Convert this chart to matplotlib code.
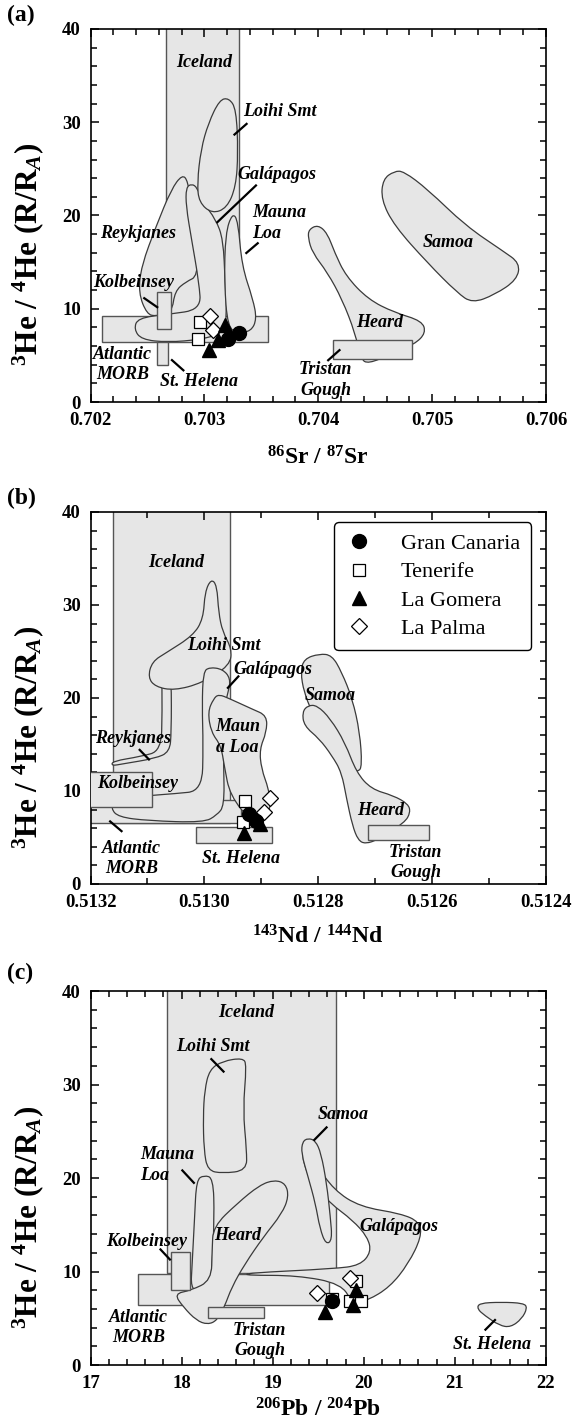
import numpy as np
import matplotlib
matplotlib.use('Agg')
import matplotlib.pyplot as plt
from matplotlib.path import Path
from matplotlib.patches import PathPatch, Rectangle

plt.rcParams['font.family'] = ['Liberation Serif', 'DejaVu Serif']
plt.rcParams['mathtext.fontset'] = 'custom'
plt.rcParams['mathtext.rm'] = 'Liberation Serif:bold'
plt.rcParams['mathtext.bf'] = 'Liberation Serif:bold'
plt.rcParams['mathtext.it'] = 'Liberation Serif:bold:italic'

# ---- Canary Islands samples: (x, 3He/4He) ----
gc_sr = [0.70330, 0.70321]
gc_sr_he = [7.4, 6.8]
tf_sr = [0.70296, 0.70294]
tf_sr_he = [8.6, 6.8]
lg_sr = [0.70318, 0.70312, 0.70304]
lg_sr_he = [8.3, 6.6, 5.6]
lp_sr = [0.70305, 0.70308]
lp_sr_he = [9.2, 7.7]

gc_nd = [0.512921, 0.512910]
gc_nd_he = [7.5, 6.8]
tf_nd = [0.512929, 0.512932]
tf_nd_he = [8.9, 6.7]
lg_nd = [0.512930, 0.512903]
lg_nd_he = [5.5, 6.4]
lp_nd = [0.512884, 0.512895]
lp_nd_he = [9.2, 7.7]

gc_pb = [19.65]
gc_pb_he = [6.85]
tf_pb = [19.65, 19.92, 19.85, 19.97]
tf_pb_he = [7.1, 9.0, 6.9, 6.9]
lg_pb = [19.57, 19.92, 19.88]
lg_pb_he = [5.65, 8.0, 6.4]
lp_pb = [19.49, 19.85]
lp_pb_he = [7.7, 9.3]

# ---- rectangular fields: (x0, x1, y0, y1) ----
sr_iceland = (0.70266, 0.70330, 8.0, 45.0)
sr_morb = (0.70210, 0.70356, 6.4, 9.2)
sr_kolbeinsey = (0.70258, 0.70271, 7.8, 11.8)
sr_sthelena = (0.70258, 0.70268, 4.0, 6.4)
sr_tristan = (0.70413, 0.70482, 4.6, 6.6)

nd_iceland = (0.513161, 0.512955, 6.6, 45.0)
nd_morb = (0.513250, 0.512935, 6.6, 9.0)
nd_kolbeinsey = (0.513250, 0.513092, 8.25, 12.0)
nd_sthelena = (0.513014, 0.512882, 4.4, 6.1)
nd_tristan = (0.512713, 0.512606, 4.75, 6.35)

pb_iceland = (17.845, 19.694, 9.8, 45.0)
pb_morb = (17.52, 19.62, 6.37, 9.77)
pb_kolbeinsey = (17.88, 18.09, 7.98, 12.1)
pb_tristan = (18.29, 18.91, 5.0, 6.26)

# ---- outlined fields: list of (x, 3He/4He) vertices ----
sr_loihi = [(0.703215, 32.6), (0.703280, 31.4), (0.703296, 26.7), (0.703277, 23.1),
            (0.703198, 20.8), (0.703068, 20.2), (0.702953, 21.4), (0.702937, 23.5),
            (0.702970, 27.1), (0.703035, 29.9), (0.703133, 32.4)]
sr_reykjanes = [(0.702496, 9.4), (0.702421, 11.7), (0.702447, 14.6), (0.702578, 18.9),
                (0.702709, 22.8), (0.702806, 24.4), (0.702855, 23.7), (0.702888, 21.0),
                (0.702931, 17.4), (0.702944, 13.5), (0.702839, 12.9), (0.702741, 11.9),
                (0.702715, 9.6), (0.702578, 9.2)]
sr_galapagos = [(0.702839, 23.0), (0.702888, 23.4), (0.702937, 23.0), (0.702986, 21.4),
                (0.703100, 19.6), (0.703166, 17.4), (0.703182, 12.8), (0.703198, 9.2),
                (0.703166, 7.4), (0.702970, 6.7), (0.702676, 6.4), (0.702447, 6.7),
                (0.702382, 7.8), (0.702415, 9.0), (0.702676, 9.4), (0.702970, 9.9),
                (0.702953, 12.8), (0.702888, 17.4), (0.702839, 21.0)]
sr_maunaloa = [(0.703247, 20.3), (0.703296, 19.4), (0.703329, 14.6), (0.703427, 11.0),
               (0.703460, 8.9), (0.703411, 7.6), (0.703296, 7.4), (0.703205, 8.0),
               (0.703175, 12.8), (0.703185, 18.1)]
sr_heard = [(0.703917, 18.5), (0.703998, 19.0), (0.704080, 18.1), (0.704145, 16.0),
            (0.704243, 13.5), (0.704439, 11.0), (0.704668, 9.6), (0.704912, 8.7),
            (0.704945, 7.4), (0.704847, 6.2), (0.704635, 5.1), (0.704439, 4.1),
            (0.704374, 4.6), (0.704324, 7.4), (0.704210, 11.0), (0.704080, 13.9),
            (0.703949, 16.0), (0.703911, 17.6)]
sr_samoa = [(0.704668, 24.75), (0.704568, 23.9), (0.704553, 21.7), (0.704668, 18.9),
            (0.704961, 14.9), (0.705222, 11.7), (0.705353, 10.6), (0.705549, 11.5),
            (0.705745, 13.1), (0.705771, 14.9), (0.705621, 16.2), (0.705294, 18.9),
            (0.704961, 22.8), (0.704750, 24.75)]

nd_loihi = [(0.512988, 32.8), (0.512978, 32.1), (0.512975, 29.2), (0.512968, 27.1),
            (0.512952, 25.3), (0.512955, 23.5), (0.513004, 21.6), (0.513053, 20.8),
            (0.513086, 21.2), (0.513099, 22.2), (0.513092, 23.9), (0.513066, 24.9),
            (0.513020, 26.7), (0.513002, 28.5), (0.512999, 31.4)]
nd_galapagos = [(0.513002, 22.8), (0.512991, 23.3), (0.512968, 23.1), (0.512954, 22.1),
                (0.512958, 20.6), (0.512968, 18.5), (0.512966, 12.7), (0.512965, 8.4),
                (0.512978, 7.4), (0.513001, 6.6), (0.513099, 6.8), (0.513151, 7.2),
                (0.513164, 8.1), (0.513158, 9.1), (0.513099, 9.5), (0.513053, 9.7),
                (0.513004, 10.0), (0.513002, 14.9), (0.513004, 19.2)]
nd_reykjanes = [(0.513073, 24.4), (0.513063, 24.2), (0.513058, 22.1), (0.513058, 16.3),
                (0.513061, 14.2), (0.513086, 13.5), (0.513144, 12.9), (0.513163, 12.7),
                (0.513161, 13.2), (0.513112, 13.7), (0.513076, 14.3), (0.513074, 18.5),
                (0.513075, 23.5)]
nd_maunaloa = [(0.512984, 19.9), (0.512975, 20.4), (0.512955, 19.9), (0.512916, 18.8),
               (0.512890, 18.1), (0.512891, 16.3), (0.512903, 14.5), (0.512900, 12.4),
               (0.512887, 10.2), (0.512883, 8.4), (0.512893, 7.0), (0.512916, 6.6),
               (0.512955, 9.5), (0.512965, 12.7), (0.512971, 14.9), (0.512988, 16.3),
               (0.512994, 18.5)]
nd_samoa = [(0.512798, 24.75), (0.512825, 24.2), (0.512831, 22.8), (0.512825, 20.6),
            (0.512811, 18.5), (0.512795, 16.3), (0.512772, 14.2), (0.512759, 12.4),
            (0.512730, 12.0), (0.512723, 12.7), (0.512727, 16.3), (0.512740, 19.9),
            (0.512759, 22.8), (0.512776, 24.6)]
nd_heard = [(0.512818, 19.2), (0.512802, 19.2), (0.512779, 17.8), (0.512753, 15.2),
            (0.512733, 12.0), (0.512707, 10.2), (0.512668, 9.5), (0.512642, 8.6),
            (0.512638, 7.7), (0.512648, 6.6), (0.512694, 4.8), (0.512717, 4.3),
            (0.512730, 4.7), (0.512740, 6.3), (0.512750, 9.1), (0.512759, 12.0),
            (0.512776, 13.8), (0.512798, 15.6), (0.512825, 17.0), (0.512828, 18.5)]

pb_loihi = [(18.673, 32.85), (18.714, 32.1), (18.673, 27.3), (18.714, 23.0),
            (18.714, 20.8), (18.449, 20.5), (18.286, 20.8), (18.245, 23.0),
            (18.237, 26.6), (18.253, 29.4), (18.306, 31.6), (18.449, 32.5)]
pb_maunaloa = [(18.245, 20.3), (18.347, 20.0), (18.359, 15.85), (18.335, 10.48),
               (18.306, 8.16), (18.184, 7.7), (18.102, 8.34), (18.114, 10.48),
               (18.143, 15.85), (18.163, 19.8)]
pb_heard = [(18.347, 14.8), (18.612, 17.3), (18.857, 19.25), (19.02, 19.8),
            (19.143, 19.4), (19.176, 18.0), (19.102, 16.2), (18.898, 13.7),
            (18.694, 10.8), (18.551, 8.34), (18.469, 6.19), (18.388, 4.76),
            (18.286, 4.33), (18.163, 4.76), (18.02, 6.19), (17.918, 7.62),
            (18.102, 7.98), (18.327, 9.05), (18.335, 12.3)]
pb_samoa = [(19.388, 24.26), (19.469, 24.0), (19.531, 22.65), (19.592, 19.43),
            (19.633, 15.85), (19.653, 13.35), (19.584, 12.9), (19.518, 14.6),
            (19.469, 17.28), (19.388, 20.14), (19.314, 22.65), (19.327, 23.9)]
pb_galapagos = [(18.714, 9.84), (19.673, 10.3), (19.959, 10.66), (20.082, 12.09),
                (20.041, 13.7), (19.878, 15.49), (19.633, 17.28), (19.429, 19.43),
                (19.339, 21.57), (19.327, 23.0), (19.388, 23.36), (19.469, 21.57),
                (19.673, 18.71), (19.959, 16.92), (20.408, 16.2), (20.612, 15.31),
                (20.633, 13.7), (20.49, 10.84), (20.286, 8.34), (20.041, 6.9),
                (19.878, 6.55), (19.755, 8.7), (19.265, 9.59), (18.714, 9.59)]
pb_sthelena = [(21.265, 6.62), (21.51, 6.73), (21.755, 6.62), (21.796, 6.12),
               (21.735, 4.94), (21.612, 4.04), (21.49, 4.22), (21.327, 5.3),
               (21.245, 6.01)]

FILL = '#e6e6e6'


def smooth_path(pts):
    # closed quadratic bezier running through the midpoints of the vertices
    pts = np.asarray(pts, dtype=float)
    mids = (pts + np.roll(pts, -1, axis=0)) / 2
    verts = [mids[-1]]
    codes = [Path.MOVETO]
    for i in range(len(pts)):
        verts += [pts[i], mids[i]]
        codes += [Path.CURVE3, Path.CURVE3]
    return Path(verts, codes)


def field(ax, pts, z=2):
    ax.add_patch(PathPatch(smooth_path(pts), facecolor=FILL, edgecolor='#3a3a3a',
                           lw=0.9, zorder=z))


def box(ax, r, z=2):
    x0, x1, y0, y1 = r
    ax.add_patch(Rectangle((min(x0, x1), y0), abs(x1 - x0), y1 - y0,
                           facecolor=FILL, edgecolor='#555555', lw=1.0, zorder=z))


def label(ax, x, y, s, ha='center'):
    ax.text(x, y, s, ha=ha, va='center', fontsize=13, fontweight='bold',
            fontstyle='italic', zorder=8, linespacing=1.25)


def pointer(ax, x0, y0, x1, y1):
    ax.plot([x0, x1], [y0, y1], color='k', lw=1.6, zorder=8, solid_capstyle='butt')


def samples(ax, gc, gch, tf, tfh, lg, lgh, lp, lph):
    ax.plot(tf, tfh, 's', ms=9, mfc='white', mec='black', mew=0.9, ls='none',
            zorder=10, label='Tenerife')
    ax.plot(lp, lph, 'D', ms=8, mfc='white', mec='black', mew=0.9, ls='none',
            zorder=11, label='La Palma')
    ax.plot(lg, lgh, '^', ms=10, mfc='black', mec='black', ls='none',
            zorder=12, label='La Gomera')
    ax.plot(gc, gch, 'o', ms=10, mfc='black', mec='black', ls='none',
            zorder=13, label='Gran Canaria')


def style(ax, xlim, xmaj, xmin, xfmt, xlabel, xlab_y):
    ax.set_xlim(*xlim)
    ax.set_ylim(0, 40)
    ax.set_xticks(xmaj)
    ax.set_xticks(xmin, minor=True)
    ax.set_xticklabels([xfmt.format(v) for v in xmaj])
    ax.set_yticks([0, 10, 20, 30, 40])
    ax.set_yticks(np.arange(0, 41, 2), minor=True)
    ax.tick_params(which='both', direction='in', top=True, right=True,
                   labelsize=13.5, pad=7, width=1.1)
    ax.tick_params(which='major', length=6)
    ax.tick_params(which='minor', length=4)
    for t in ax.get_xticklabels() + ax.get_yticklabels():
        t.set_fontweight('bold')
    for s in ax.spines.values():
        s.set_linewidth(1.2)
    ax.set_xlabel(xlabel, fontsize=17, fontweight='bold')
    ax.xaxis.set_label_coords(0.5, xlab_y)
    ax.set_ylabel(r'$^{3}$He / $^{4}$He (R/R$_{A}$)', fontsize=22.5, fontweight='bold')
    ax.yaxis.set_label_coords(-0.097, 0.395)


fig = plt.figure(figsize=(5.82, 14.2), dpi=100)
L, W = 0.1555, 0.7826

# (a) Sr
ax = fig.add_axes([L, 0.7169, W, 0.2627])
box(ax, sr_iceland, 1)
box(ax, sr_morb, 1.5)
for f in (sr_reykjanes, sr_galapagos, sr_maunaloa, sr_loihi, sr_heard, sr_samoa):
    field(ax, f)
box(ax, sr_kolbeinsey, 3)
box(ax, sr_sthelena, 3)
box(ax, sr_tristan, 3)
samples(ax, gc_sr, gc_sr_he, tf_sr, tf_sr_he, lg_sr, lg_sr_he, lp_sr, lp_sr_he)
label(ax, 0.702996, 36.4, 'Iceland')
label(ax, 0.703662, 31.2, 'Loihi Smt')
pointer(ax, 0.703378, 29.9, 0.703257, 28.6)
label(ax, 0.703639, 24.4, 'Galápagos')
pointer(ax, 0.703460, 23.3, 0.703107, 19.2)
label(ax, 0.70342, 19.2, 'Mauna\nLoa', ha='left')
pointer(ax, 0.703476, 17.1, 0.703361, 15.9)
label(ax, 0.702421, 18.1, 'Reykjanes')
label(ax, 0.702375, 12.8, 'Kolbeinsey')
pointer(ax, 0.702464, 11.2, 0.702594, 10.1)
label(ax, 0.702284, 4.05, 'Atlantic\nMORB')
label(ax, 0.702953, 2.25, 'St. Helena')
pointer(ax, 0.702708, 4.57, 0.702823, 3.32)
label(ax, 0.704537, 8.5, 'Heard')
label(ax, 0.705141, 17.1, 'Samoa')
label(ax, 0.704063, 2.35, 'Tristan\nGough')
pointer(ax, 0.70408, 4.4, 0.704194, 5.64)
style(ax, (0.702, 0.706), [0.702, 0.703, 0.704, 0.705, 0.706],
      np.arange(0.702, 0.70601, 0.0002), '{:.3f}',
      r'$^{86}$Sr / $^{87}$Sr', -0.12)

# (b) Nd
ax = fig.add_axes([L, 0.3775, W, 0.262])
box(ax, nd_iceland, 1)
box(ax, nd_morb, 1.5)
for f in (nd_reykjanes, nd_loihi, nd_galapagos, nd_maunaloa, nd_samoa, nd_heard):
    field(ax, f)
box(ax, nd_kolbeinsey, 3)
box(ax, nd_sthelena, 3)
box(ax, nd_tristan, 3)
samples(ax, gc_nd, gc_nd_he, tf_nd, tf_nd_he, lg_nd, lg_nd_he, lp_nd, lp_nd_he)
label(ax, 0.51305, 34.6, 'Iceland')
label(ax, 0.512965, 25.65, 'Loihi Smt')
label(ax, 0.51288, 23.1, 'Galápagos')
pointer(ax, 0.512939, 22.4, 0.51296, 21.0)
label(ax, 0.512942, 15.8, 'Maun\na Loa')
label(ax, 0.513125, 15.6, 'Reykjanes')
pointer(ax, 0.513115, 14.5, 0.513096, 13.3)
label(ax, 0.513118, 10.8, 'Kolbeinsey')
label(ax, 0.513128, 2.7, 'Atlantic\nMORB')
pointer(ax, 0.513167, 6.8, 0.513144, 5.6)
label(ax, 0.512936, 2.7, 'St. Helena')
label(ax, 0.512779, 20.3, 'Samoa')
label(ax, 0.51269, 7.9, 'Heard')
label(ax, 0.512629, 2.33, 'Tristan\nGough')
style(ax, (0.5132, 0.5124), [0.5132, 0.5130, 0.5128, 0.5126, 0.5124],
      np.arange(0.5124, 0.51321, 0.0001), '{:.4f}',
      r'$^{143}$Nd / $^{144}$Nd', -0.11)
h, lab = ax.get_legend_handles_labels()
order = [3, 0, 2, 1]
leg = ax.legend([h[i] for i in order], [lab[i] for i in order], loc='upper right',
                bbox_to_anchor=(0.968, 0.972), borderaxespad=0, fontsize=16,
                frameon=True, fancybox=True, edgecolor='black', framealpha=1,
                handletextpad=1.3, labelspacing=0.35, borderpad=0.5, handlelength=1.2)
leg.get_frame().set_linewidth(1.0)
leg.set_zorder(20)

# (c) Pb
ax = fig.add_axes([L, 0.0387, W, 0.2634])
box(ax, pb_iceland, 1)
box(ax, pb_morb, 1.5)
for f in (pb_loihi, pb_maunaloa, pb_heard, pb_galapagos, pb_samoa, pb_sthelena):
    field(ax, f)
box(ax, pb_kolbeinsey, 3)
box(ax, pb_tristan, 3)
samples(ax, gc_pb, gc_pb_he, tf_pb, tf_pb_he, lg_pb, lg_pb_he, lp_pb, lp_pb_he)
label(ax, 18.714, 37.7, 'Iceland')
label(ax, 18.347, 34.1, 'Loihi Smt')
pointer(ax, 18.318, 32.8, 18.469, 31.3)
label(ax, 17.55, 21.4, 'Mauna\nLoa', ha='left')
pointer(ax, 18.0, 20.9, 18.143, 19.4)
label(ax, 17.612, 13.2, 'Kolbeinsey')
pointer(ax, 17.76, 12.45, 17.88, 11.2)
label(ax, 18.612, 13.9, 'Heard')
label(ax, 19.776, 26.8, 'Samoa')
pointer(ax, 19.6, 25.5, 19.449, 24.0)
label(ax, 20.388, 14.8, 'Galápagos')
label(ax, 17.53, 4.05, 'Atlantic\nMORB')
label(ax, 18.857, 2.6, 'Tristan\nGough')
label(ax, 21.408, 2.25, 'St. Helena')
pointer(ax, 21.327, 3.7, 21.449, 4.9)
style(ax, (17, 22), [17, 18, 19, 20, 21, 22], np.arange(17, 22.01, 0.2), '{:.0f}',
      r'$^{206}$Pb / $^{204}$Pb', -0.088)

for s, y in (('(a)', 15), ('(b)', 498), ('(c)', 973)):
    fig.text(0.012, 1 - y / 1420, s, fontsize=17, fontweight='bold', va='center')

fig.savefig('out.png', dpi=100)
